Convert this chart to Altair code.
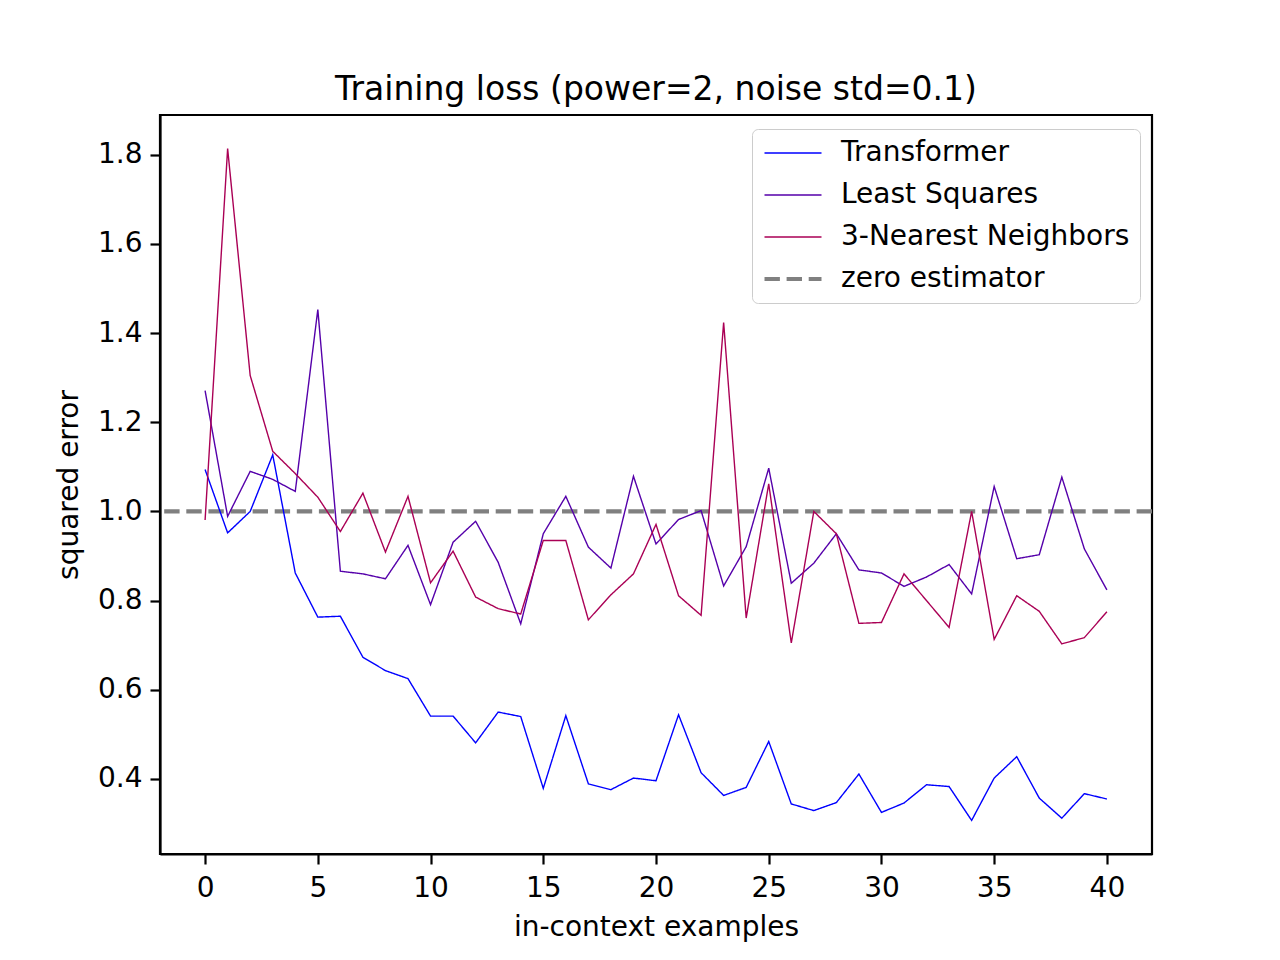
import altair as alt
import pandas as pd

x_vals = list(range(41))

transformer = [1.094, 0.952, 1.000, 1.127, 0.862, 0.763, 0.765, 0.673, 0.643, 0.625,
               0.541, 0.541, 0.481, 0.550, 0.540, 0.379, 0.542, 0.389, 0.376, 0.402,
               0.396, 0.544, 0.414, 0.363, 0.381, 0.484, 0.344, 0.329, 0.347, 0.411,
               0.325, 0.346, 0.387, 0.383, 0.307, 0.402, 0.450, 0.357, 0.312, 0.367,
               0.355]

least_squares = [1.271, 0.989, 1.090, 1.072, 1.045, 1.453, 0.866, 0.860, 0.849, 0.924,
                 0.791, 0.931, 0.978, 0.886, 0.748, 0.950, 1.034, 0.920, 0.873, 1.079,
                 0.927, 0.982, 1.002, 0.833, 0.921, 1.097, 0.839, 0.884, 0.950, 0.869,
                 0.862, 0.832, 0.853, 0.881, 0.815, 1.056, 0.894, 0.903, 1.077, 0.916,
                 0.824]

knn3 = [0.981, 1.814, 1.305, 1.135, 1.085, 1.032, 0.955, 1.041, 0.909, 1.034,
        0.840, 0.911, 0.808, 0.782, 0.770, 0.935, 0.935, 0.757, 0.813, 0.860,
        0.971, 0.811, 0.767, 1.424, 0.761, 1.062, 0.705, 1.000, 0.950, 0.749,
        0.751, 0.860, 0.800, 0.740, 1.000, 0.713, 0.811, 0.776, 0.703, 0.717,
        0.775]

zero_level = [1.0]

series_names = ["Transformer", "Least Squares", "3-Nearest Neighbors", "zero estimator"]
series_colors = ["#0000ff", "#5500aa", "#aa0055", "#808080"]
series_dash = [[1, 0], [1, 0], [1, 0], [15.4, 6.7]]
series_width = [1.4, 1.4, 1.4, 4.2]

rows = []
for name, vals in [("Transformer", transformer), ("Least Squares", least_squares),
                   ("3-Nearest Neighbors", knn3)]:
    for xv, yv in zip(x_vals, vals):
        rows.append({"x": xv, "y": yv, "series": name})
df = pd.DataFrame(rows)
zero_df = pd.DataFrame({"y": zero_level, "series": ["zero estimator"]})

all_y = transformer + least_squares + knn3
ymin, ymax = min(all_y), max(all_y)
pad = 0.05 * (ymax - ymin)
y_domain = [ymin - pad, ymax + pad]
x_domain = [-2, 42]

font = "DejaVu Sans"

color_scale = alt.Scale(domain=series_names, range=series_colors)
dash_scale = alt.Scale(domain=series_names, range=series_dash)
width_scale = alt.Scale(type="ordinal", domain=series_names, range=series_width)

legend = alt.Legend(
    title=None, orient="none", legendX=592, legendY=14,
    symbolType="stroke", symbolSize=3249, clipHeight=28, labelFontSize=28, labelFont=font,
    labelColor="black", labelOffset=17, rowPadding=14, padding=10,
    strokeColor="#cccccc", fillColor="white", cornerRadius=6, labelLimit=600,
)

x_axis = alt.Axis(
    values=list(range(0, 41, 5)), title="in-context examples", grid=False,
    tickSize=10, tickWidth=2.2, tickColor="black", domainColor="black", domainWidth=2.2,
    labelFontSize=28, labelFont=font, labelColor="black", labelPadding=10,
    titleFontSize=28, titleFont=font, titleFontWeight="normal", titleColor="black",
    titlePadding=11,
)
y_axis = alt.Axis(
    values=[0.4, 0.6, 0.8, 1.0, 1.2, 1.4, 1.6, 1.8], format=".1f", title="squared error",
    grid=False, tickSize=10, tickWidth=2.2, tickColor="black", domainColor="black",
    domainWidth=2.2, labelFontSize=28, labelFont=font, labelColor="black", labelPadding=8,
    titleFontSize=28, titleFont=font, titleFontWeight="normal", titleColor="black",
    titlePadding=14,
)

lines = alt.Chart(df).mark_line(clip=True).encode(
    x=alt.X("x:Q", scale=alt.Scale(domain=x_domain, nice=False, zero=False), axis=x_axis),
    y=alt.Y("y:Q", scale=alt.Scale(domain=y_domain, nice=False, zero=False), axis=y_axis),
    color=alt.Color("series:N", scale=color_scale, legend=legend),
    strokeDash=alt.StrokeDash("series:N", scale=dash_scale, legend=legend),
    strokeWidth=alt.StrokeWidth("series:N", scale=width_scale, legend=legend),
    order=alt.Order("x:Q"),
)

zero_line = alt.Chart(zero_df).mark_rule().encode(
    y=alt.Y("y:Q"),
    color=alt.Color("series:N", scale=color_scale, legend=legend),
    strokeDash=alt.StrokeDash("series:N", scale=dash_scale, legend=legend),
    strokeWidth=alt.StrokeWidth("series:N", scale=width_scale, legend=legend),
)

chart = alt.layer(zero_line, lines).properties(
    width=992, height=739,
    title=alt.TitleParams("Training loss (power=2, noise std=0.1)", fontSize=33, font=font,
                          fontWeight="normal", color="black", anchor="middle", offset=8),
    autosize=alt.AutoSizeParams(type="none"),
    padding={"left": 152, "top": 107, "right": 110, "bottom": 90},
).configure(
    background="white",
    view=alt.ViewConfig(stroke="black", strokeWidth=2.2),
)

chart.save("out.html", embed_options={"renderer": "svg", "actions": False})
